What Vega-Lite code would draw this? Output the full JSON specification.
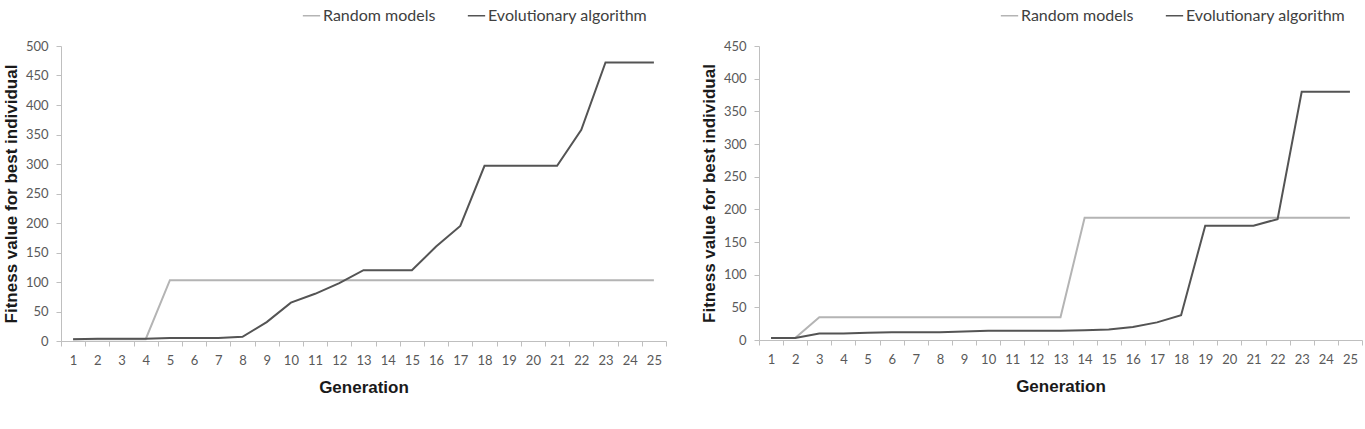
{
  "$schema": "https://vega.github.io/schema/vega-lite/v6.json",
  "background": "white",
  "padding": {"left": 2, "top": 6, "right": 0, "bottom": 0},
  "datasets": {
    "left": [
      {"gen": 1, "series": "Random models", "value": 3},
      {"gen": 2, "series": "Random models", "value": 3},
      {"gen": 3, "series": "Random models", "value": 3},
      {"gen": 4, "series": "Random models", "value": 3},
      {"gen": 5, "series": "Random models", "value": 103},
      {"gen": 6, "series": "Random models", "value": 103},
      {"gen": 7, "series": "Random models", "value": 103},
      {"gen": 8, "series": "Random models", "value": 103},
      {"gen": 9, "series": "Random models", "value": 103},
      {"gen": 10, "series": "Random models", "value": 103},
      {"gen": 11, "series": "Random models", "value": 103},
      {"gen": 12, "series": "Random models", "value": 103},
      {"gen": 13, "series": "Random models", "value": 103},
      {"gen": 14, "series": "Random models", "value": 103},
      {"gen": 15, "series": "Random models", "value": 103},
      {"gen": 16, "series": "Random models", "value": 103},
      {"gen": 17, "series": "Random models", "value": 103},
      {"gen": 18, "series": "Random models", "value": 103},
      {"gen": 19, "series": "Random models", "value": 103},
      {"gen": 20, "series": "Random models", "value": 103},
      {"gen": 21, "series": "Random models", "value": 103},
      {"gen": 22, "series": "Random models", "value": 103},
      {"gen": 23, "series": "Random models", "value": 103},
      {"gen": 24, "series": "Random models", "value": 103},
      {"gen": 25, "series": "Random models", "value": 103},
      {"gen": 1, "series": "Evolutionary algorithm", "value": 3},
      {"gen": 2, "series": "Evolutionary algorithm", "value": 4},
      {"gen": 3, "series": "Evolutionary algorithm", "value": 4},
      {"gen": 4, "series": "Evolutionary algorithm", "value": 4},
      {"gen": 5, "series": "Evolutionary algorithm", "value": 5},
      {"gen": 6, "series": "Evolutionary algorithm", "value": 5},
      {"gen": 7, "series": "Evolutionary algorithm", "value": 5},
      {"gen": 8, "series": "Evolutionary algorithm", "value": 7},
      {"gen": 9, "series": "Evolutionary algorithm", "value": 32},
      {"gen": 10, "series": "Evolutionary algorithm", "value": 65},
      {"gen": 11, "series": "Evolutionary algorithm", "value": 80},
      {"gen": 12, "series": "Evolutionary algorithm", "value": 98},
      {"gen": 13, "series": "Evolutionary algorithm", "value": 120},
      {"gen": 14, "series": "Evolutionary algorithm", "value": 120},
      {"gen": 15, "series": "Evolutionary algorithm", "value": 120},
      {"gen": 16, "series": "Evolutionary algorithm", "value": 160},
      {"gen": 17, "series": "Evolutionary algorithm", "value": 195},
      {"gen": 18, "series": "Evolutionary algorithm", "value": 297},
      {"gen": 19, "series": "Evolutionary algorithm", "value": 297},
      {"gen": 20, "series": "Evolutionary algorithm", "value": 297},
      {"gen": 21, "series": "Evolutionary algorithm", "value": 297},
      {"gen": 22, "series": "Evolutionary algorithm", "value": 358},
      {"gen": 23, "series": "Evolutionary algorithm", "value": 472},
      {"gen": 24, "series": "Evolutionary algorithm", "value": 472},
      {"gen": 25, "series": "Evolutionary algorithm", "value": 472}
    ],
    "right": [
      {"gen": 1, "series": "Random models", "value": 3},
      {"gen": 2, "series": "Random models", "value": 3},
      {"gen": 3, "series": "Random models", "value": 35},
      {"gen": 4, "series": "Random models", "value": 35},
      {"gen": 5, "series": "Random models", "value": 35},
      {"gen": 6, "series": "Random models", "value": 35},
      {"gen": 7, "series": "Random models", "value": 35},
      {"gen": 8, "series": "Random models", "value": 35},
      {"gen": 9, "series": "Random models", "value": 35},
      {"gen": 10, "series": "Random models", "value": 35},
      {"gen": 11, "series": "Random models", "value": 35},
      {"gen": 12, "series": "Random models", "value": 35},
      {"gen": 13, "series": "Random models", "value": 35},
      {"gen": 14, "series": "Random models", "value": 187},
      {"gen": 15, "series": "Random models", "value": 187},
      {"gen": 16, "series": "Random models", "value": 187},
      {"gen": 17, "series": "Random models", "value": 187},
      {"gen": 18, "series": "Random models", "value": 187},
      {"gen": 19, "series": "Random models", "value": 187},
      {"gen": 20, "series": "Random models", "value": 187},
      {"gen": 21, "series": "Random models", "value": 187},
      {"gen": 22, "series": "Random models", "value": 187},
      {"gen": 23, "series": "Random models", "value": 187},
      {"gen": 24, "series": "Random models", "value": 187},
      {"gen": 25, "series": "Random models", "value": 187},
      {"gen": 1, "series": "Evolutionary algorithm", "value": 3},
      {"gen": 2, "series": "Evolutionary algorithm", "value": 3},
      {"gen": 3, "series": "Evolutionary algorithm", "value": 10},
      {"gen": 4, "series": "Evolutionary algorithm", "value": 10},
      {"gen": 5, "series": "Evolutionary algorithm", "value": 11},
      {"gen": 6, "series": "Evolutionary algorithm", "value": 12},
      {"gen": 7, "series": "Evolutionary algorithm", "value": 12},
      {"gen": 8, "series": "Evolutionary algorithm", "value": 12},
      {"gen": 9, "series": "Evolutionary algorithm", "value": 13},
      {"gen": 10, "series": "Evolutionary algorithm", "value": 14},
      {"gen": 11, "series": "Evolutionary algorithm", "value": 14},
      {"gen": 12, "series": "Evolutionary algorithm", "value": 14},
      {"gen": 13, "series": "Evolutionary algorithm", "value": 14},
      {"gen": 14, "series": "Evolutionary algorithm", "value": 15},
      {"gen": 15, "series": "Evolutionary algorithm", "value": 16},
      {"gen": 16, "series": "Evolutionary algorithm", "value": 20},
      {"gen": 17, "series": "Evolutionary algorithm", "value": 27},
      {"gen": 18, "series": "Evolutionary algorithm", "value": 38},
      {"gen": 19, "series": "Evolutionary algorithm", "value": 175},
      {"gen": 20, "series": "Evolutionary algorithm", "value": 175},
      {"gen": 21, "series": "Evolutionary algorithm", "value": 175},
      {"gen": 22, "series": "Evolutionary algorithm", "value": 185},
      {"gen": 23, "series": "Evolutionary algorithm", "value": 380},
      {"gen": 24, "series": "Evolutionary algorithm", "value": 380},
      {"gen": 25, "series": "Evolutionary algorithm", "value": 380}
    ]
  },
  "config": {
    "view": {"stroke": null},
    "font": "Lato",
    "concat": {"spacing": 33},
    "axis": {
      "grid": false,
      "domainColor": "#bfbfbf",
      "tickColor": "#bfbfbf",
      "tickSize": 5,
      "labelFont": "Lato",
      "labelFontSize": 13,
      "labelColor": "#595959",
      "titleFont": "Liberation Sans",
      "titleFontWeight": "bold",
      "titleFontSize": 17,
      "titleColor": "#1a1a1a"
    },
    "legend": {
      "orient": "none",
      "direction": "horizontal",
      "symbolType": "stroke",
      "symbolStrokeWidth": 1.5,
      "symbolSize": 300,
      "labelFont": "Lato",
      "labelFontSize": 16,
      "labelColor": "#404040",
      "labelOffset": 2,
      "columnPadding": 28,
      "legendY": -40
    }
  },
  "hconcat": [
    {
      "width": 605,
      "height": 295,
      "data": {"name": "left"},
      "mark": {"type": "line", "strokeWidth": 2},
      "encoding": {
        "x": {
          "field": "gen", "type": "ordinal",
          "scale": {"type": "band", "paddingInner": 0, "paddingOuter": 0},
          "axis": {"title": "Generation", "labelAngle": 0, "tickBand": "extent", "labelPadding": 8, "titlePadding": 12}
        },
        "y": {
          "field": "value", "type": "quantitative",
          "scale": {"domain": [0, 500], "nice": false},
          "axis": {"title": "Fitness value for best individual", "values": [0,50,100,150,200,250,300,350,400,450,500], "labelPadding": 8, "titlePadding": 5}
        },
        "color": {
          "field": "series", "type": "nominal",
          "scale": {"domain": ["Random models", "Evolutionary algorithm"], "range": ["#b4b4b4", "#545454"]},
          "legend": {"title": null, "legendX": 241}
        }
      }
    },
    {
      "width": 603,
      "height": 294,
      "data": {"name": "right"},
      "mark": {"type": "line", "strokeWidth": 2},
      "encoding": {
        "x": {
          "field": "gen", "type": "ordinal",
          "scale": {"type": "band", "paddingInner": 0, "paddingOuter": 0},
          "axis": {"title": "Generation", "labelAngle": 0, "tickBand": "extent", "labelPadding": 8, "titlePadding": 12}
        },
        "y": {
          "field": "value", "type": "quantitative",
          "scale": {"domain": [0, 450], "nice": false},
          "axis": {"title": "Fitness value for best individual", "values": [0,50,100,150,200,250,300,350,400,450], "labelPadding": 8, "titlePadding": 5}
        },
        "color": {
          "field": "series", "type": "nominal",
          "scale": {"domain": ["Random models", "Evolutionary algorithm"], "range": ["#b4b4b4", "#545454"]},
          "legend": {"title": null, "legendX": 241}
        }
      }
    }
  ],
  "resolve": {"scale": {"color": "independent", "x": "independent", "y": "independent"}, "legend": {"color": "independent"}}
}
